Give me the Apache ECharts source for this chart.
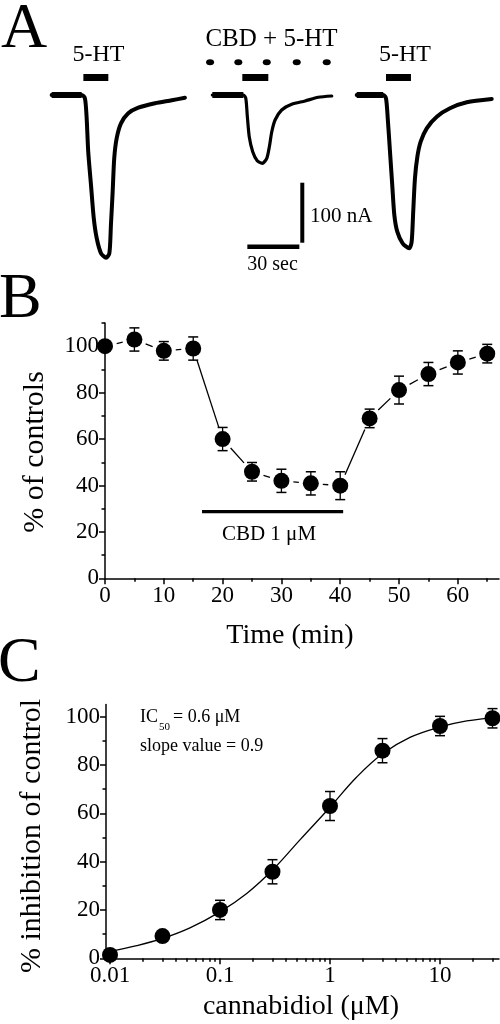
<!DOCTYPE html>
<html><head><meta charset="utf-8">
<script src="https://cdn.jsdelivr.net/npm/echarts@6/dist/echarts.min.js"></script>
<style>html,body{margin:0;padding:0;background:#fff}#c{width:500px;height:1024px}</style>
</head><body><div id="c"></div>
<script>
// ---------- Panel A: current traces, [time (s), current (nA)] ----------
const trace1 = [[29.8,0],[47.1,0],[49.0,-5.5],[50.0,-38.8],[50.9,-94.5],[52.5,-150],[54.1,-205.5],[55.8,-238.8],[58.3,-263.8],[61.2,-271.2],[63.1,-263.8],[64.0,-216.7],[65.0,-161.2],[65.9,-105.5],[67.3,-72.2],[69.8,-47.2],[74.0,-30.5],[79.8,-21.2],[89.4,-13.8],[99.1,-8.8],[106.7,-4.5]];
const trace2 = [[122.5,0],[140.4,0],[141.8,-5.5],[142.7,-36],[143.8,-69.5],[145.8,-94.5],[148.4,-109.5],[151.3,-113.8],[153.9,-105.5],[155.4,-86.2],[156.8,-61.2],[158.7,-41.7],[162.5,-25],[168.3,-15.5],[176.0,-10],[183.6,-3.8],[191.4,-1.7]];
const trace3 = [[205.8,0],[221.1,0],[222.7,-5.5],[223.7,-38.8],[225.0,-94.5],[226.3,-150],[227.5,-200],[229.2,-227.8],[232.3,-247.2],[236.1,-255.5],[237.5,-244.5],[238.4,-194.5],[239.4,-138.8],[240.8,-102.8],[242.7,-77.8],[246.2,-55.5],[252.0,-36.2],[259.6,-22.2],[269.3,-12.2],[283.7,-6.7]];
const htApplications = [[48.1,62.5],[139.8,154.8],[222.7,237.1]]; // 5-HT start/end (s)
const htBarLevel = 29.2;
const cbdDotTimes = [121.2,137.5,153.9,171.2,188.5];
const cbdDotLevel = 54.5;
const scaleTime = [142.7,172.7];    // 30 sec
const scaleTimeLevel = -252.8;
const scaleCurrent = [-146.2,-246.2]; // 100 nA
const scaleCurrentTime = 174.4;

// ---------- Panel B ----------
const timeMin = [0,5,10,15,20,25,30,35,40,45,50,55,60,65];
const pctControl = [100,102.9,98,99,60,45.9,42,40.9,39.9,68.9,81.1,88,93,96.8];
const pctErr = [0,5,4,5,5,4,5,5,6,4,6,5,5,4];
const cbdBar = [[16.5,28.7],[40.5,28.7]];
const bXTicks = [0,10,20,30,40,50,60];
const bXMinor = [5,15,25,35,45,55,65];
const bYTicks = [0,20,40,60,80,100];
const bYMinor = [10,30,50,70,90,110];

// ---------- Panel C ----------
const concUM = [0.01,0.03,0.1,0.3,1,3,10,30];
const inhibition = [1.4,9.2,20,35.8,63,85.9,96.1,99.3];
const inhibErr = [0,0,4,5,6,5,4,4];
const fitConc = [0.01,0.0175,0.03,0.0533,0.1,0.175,0.3,0.533,1,1.75,3,5.33,10,17.5,32.7];
const fitInhib = [2.8,5.2,8.2,12.6,19.2,26.8,36.5,49,62.5,75,84.6,91.4,95.7,98.2,99.7];
const cXTickConc = [0.01,0.1,1,10];
const cXTickLabels = ['0.01','0.1','1','10'];
const cXMinorConc = [0.02,0.03,0.04,0.05,0.06,0.07,0.08,0.09,0.2,0.3,0.4,0.5,0.6,0.7,0.8,0.9,2,3,4,5,6,7,8,9,20,30];
const cYTicks = [0,20,40,60,80,100];
const cYMinor = [10,30,50,70,90];

const FONT = '"Liberation Serif","Times New Roman",serif';
const lg = v => Math.log10(v);
const black = '#000';

function axisBase(grid, min, max, ticks, pos, fmt) {
  return {
    type:'value', gridIndex:grid, min:min, max:max, position:pos,
    axisLine:{show:true, onZero:false, lineStyle:{color:black,width:1.5}},
    axisTick:{show:true, inside:false, length:6, customValues:ticks, lineStyle:{color:black,width:1.5}},
    axisLabel:{show:true, customValues:ticks, margin:6, color:black, fontFamily:FONT, fontSize:23, formatter:fmt},
    splitLine:{show:false}
  };
}
function axisMinor(grid, min, max, ticks, pos) {
  return {
    type:'value', gridIndex:grid, min:min, max:max, position:pos,
    axisLine:{show:false, onZero:false},
    axisTick:{show:true, inside:false, length:3.5, customValues:ticks, lineStyle:{color:black,width:1.5}},
    axisLabel:{show:false}, splitLine:{show:false}
  };
}

const cMin = -2 - 4/110, cMax = -2 + 389/110;

function errRender(params, api) {
  const x = api.value(0), lo = api.value(1), hi = api.value(2);
  if (hi - lo <= 0) return;
  const a = api.coord([x, lo]), b = api.coord([x, hi]);
  const w = 5;
  return {type:'group', children:[
    {type:'line', shape:{x1:a[0],y1:a[1],x2:b[0],y2:b[1]}, style:{stroke:black,lineWidth:1.3}},
    {type:'line', shape:{x1:a[0]-w,y1:a[1],x2:a[0]+w,y2:a[1]}, style:{stroke:black,lineWidth:1.5}},
    {type:'line', shape:{x1:b[0]-w,y1:b[1],x2:b[0]+w,y2:b[1]}, style:{stroke:black,lineWidth:1.5}}
  ]};
}
function gapLineRender(params, api) {
  const p1 = api.coord([api.value(0), api.value(1)]);
  const p2 = api.coord([api.value(2), api.value(3)]);
  const dx = p2[0]-p1[0], dy = p2[1]-p1[1], L = Math.hypot(dx,dy), g = 12;
  if (L <= 2*g) return;
  const ux = dx/L, uy = dy/L;
  return {type:'line', shape:{x1:p1[0]+ux*g,y1:p1[1]+uy*g,x2:p2[0]-ux*g,y2:p2[1]-uy*g}, style:{stroke:black,lineWidth:1.3}};
}

const bPairs = [];
for (let i = 0; i < timeMin.length-1; i++) bPairs.push([timeMin[i],pctControl[i],timeMin[i+1],pctControl[i+1]]);
const bErr = timeMin.map((t,i) => [t, pctControl[i]-pctErr[i], pctControl[i]+pctErr[i]]);
const cErr = concUM.map((c,i) => [lg(c), inhibition[i]-inhibErr[i], inhibition[i]+inhibErr[i]]);

function txt(text, x, y, size, align, extra) {
  return Object.assign({type:'text', x:x, y:y, style:{text:text, fill:black, fontFamily:FONT, fontSize:size, align:align||'left', verticalAlign:'middle', textAlign:align||'left', textVerticalAlign:'middle'}}, extra||{});
}

const traceSeries = [trace1, trace2, trace3].map((tr, i) => ({
  type:'line', xAxisIndex:0, yAxisIndex:0, data:tr, symbol:'none', smooth:0.25,
  lineStyle:{color:black, width: i===1 ? 3.2 : 4, join:'round', cap:'round'}, silent:true
}));
const baselineSeries = [trace1, trace2, trace3].map(tr => ({
  type:'line', xAxisIndex:0, yAxisIndex:0, data:tr.slice(0,2), symbol:'none',
  lineStyle:{color:black, width:6}, silent:true
}));
const htSeries = htApplications.map(ap => ({
  type:'line', xAxisIndex:0, yAxisIndex:0, data:[[ap[0],htBarLevel],[ap[1],htBarLevel]], symbol:'none',
  lineStyle:{color:black, width:7, cap:'butt'}, silent:true
}));

const solid = {color:black, opacity:1};

const option = {
  animation:false,
  grid:[
    {left:0, top:0, width:500, height:300},
    {left:105, top:323, width:394, height:255.3},
    {left:106, top:704.5, width:393, height:253.8}
  ],
  xAxis:[
    {type:'value', gridIndex:0, min:0, max:500/1.7333, show:false},
    axisBase(1, 0, 67, bXTicks, 'bottom'),
    axisMinor(1, 0, 67, bXMinor, 'bottom'),
    axisBase(2, cMin, cMax, cXTickConc.map(lg), 'bottom', v => cXTickLabels[cXTickConc.map(lg).findIndex(t => Math.abs(t-v)<1e-6)]),
    axisMinor(2, cMin, cMax, cXMinorConc.map(lg), 'bottom')
  ],
  yAxis:[
    {type:'value', gridIndex:0, min:-341.67, max:158.33, show:false},
    axisBase(1, 0, 110, bYTicks, 'left'),
    axisMinor(1, 0, 110, bYMinor, 'left'),
    axisBase(2, 0, 105, cYTicks, 'left'),
    axisMinor(2, 0, 105, cYMinor, 'left')
  ],
  series:[
    ...traceSeries, ...baselineSeries, ...htSeries,
    {type:'scatter', xAxisIndex:0, yAxisIndex:0, data:cbdDotTimes.map(t => [t, cbdDotLevel]), symbol:'circle', symbolSize:[8,6], itemStyle:solid, silent:true},
    {type:'line', xAxisIndex:0, yAxisIndex:0, data:scaleTime.map(t => [t, scaleTimeLevel]), symbol:'none', lineStyle:{color:black,width:4.5,cap:'butt'}, silent:true},
    {type:'line', xAxisIndex:0, yAxisIndex:0, data:scaleCurrent.map(v => [scaleCurrentTime, v]), symbol:'none', lineStyle:{color:black,width:4,cap:'butt'}, silent:true},
    // Panel B
    {type:'custom', xAxisIndex:1, yAxisIndex:1, data:bPairs, renderItem:gapLineRender, encode:{x:[0,2], y:[1,3]}, clip:false, silent:true},
    {type:'custom', xAxisIndex:1, yAxisIndex:1, data:bErr, renderItem:errRender, encode:{x:0, y:[1,2]}, clip:false, silent:true},
    {type:'scatter', xAxisIndex:1, yAxisIndex:1, data:timeMin.map((t,i) => [t, pctControl[i]]), symbol:'circle', symbolSize:16, itemStyle:solid, clip:false, silent:true, z:5},
    {type:'line', xAxisIndex:1, yAxisIndex:1, data:cbdBar, symbol:'none', lineStyle:{color:black,width:3.2,cap:'butt'}, silent:true},
    // Panel C
    {type:'line', xAxisIndex:3, yAxisIndex:3, data:fitConc.map((c,i) => [lg(c), fitInhib[i]]), symbol:'none', smooth:0.4, lineStyle:{color:black,width:1.3}, silent:true},
    {type:'custom', xAxisIndex:3, yAxisIndex:3, data:cErr, renderItem:errRender, encode:{x:0, y:[1,2]}, clip:false, silent:true},
    {type:'scatter', xAxisIndex:3, yAxisIndex:3, data:concUM.map((c,i) => [lg(c), inhibition[i]]), symbol:'circle', symbolSize:16, itemStyle:solid, clip:false, silent:true, z:5}
  ],
  graphic:{elements:[
    txt('A', 1, 30, 64),
    txt('B', -1, 300, 64),
    txt('C', -2, 664, 64),
    txt('5-HT', 98.5, 55, 24, 'center'),
    txt('CBD + 5-HT', 271.5, 39, 25, 'center'),
    txt('5-HT', 405, 55, 24, 'center'),
    txt('100 nA', 310, 216, 21),
    txt('30 sec', 272.5, 265, 20, 'center'),
    txt('CBD 1 μM', 269, 534, 21, 'center'),
    txt('% of controls', 35, 452, 30, 'center', {rotation:Math.PI/2}),
    txt('Time (min)', 290, 636, 28, 'center'),
    txt('% inhibition of control', 32, 836, 30, 'center', {rotation:Math.PI/2}),
    txt('cannabidiol (μM)', 301, 1007, 28, 'center'),
    txt('IC', 140, 717.5, 18),
    txt('50', 159, 727, 11),
    txt('= 0.6 μM', 173, 717.5, 18),
    txt('slope value = 0.9', 140, 746, 18)
  ]}
};
const chart = echarts.init(document.getElementById('c'), null, {renderer:'canvas'});
chart.setOption(option);
</script></body></html>
